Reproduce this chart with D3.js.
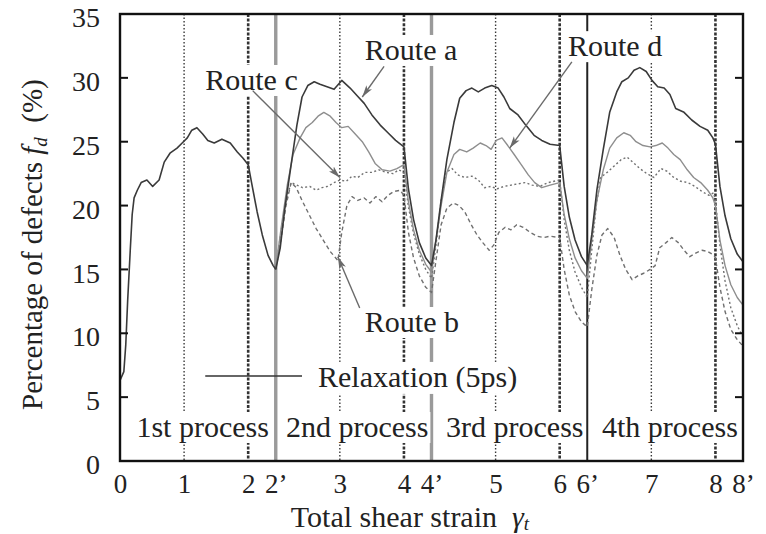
<!DOCTYPE html>
<html>
<head>
<meta charset="utf-8">
<script src="https://cdn.jsdelivr.net/npm/d3@7"></script>
<style>
    body { margin: 0; background: #fff; }
    svg text { font-family: "Liberation Serif", "Times New Roman", serif; fill: #222; }
</style>
</head>
<body>
<svg id="chart" width="766" height="534"></svg>
<script>
// ! DATA ! //
// x is the position along the strain axis: each process = 2 strain units of shear + a relaxation span
const xTickVals = [0, 1, 2, 2.43, 3.43, 4.43, 4.86, 5.86, 6.86, 7.29, 8.29, 9.29, 9.72];
const xTickLabels = ["0", "1", "2", "2’", "3", "4", "4’", "5", "6", "6’", "7", "8", "8’"];
const yTickVals = [5, 10, 15, 20, 25, 30];
const yLabelVals = [0, 5, 10, 15, 20, 25, 30, 35];
const shearMid = [1, 3.43, 5.86, 8.29];
const shearEnd = [2, 4.43, 6.86, 9.29];
const relaxEnd = [2.43, 4.86, 7.29];
const processLabels = ["1st process", "2nd process", "3rd process", "4th process"];

const process1 = [
    [0, 6.3], [0.06, 7.0], [0.09, 9.1], [0.12, 12.6], [0.16, 16.5], [0.19, 19.3], [0.22, 20.6], [0.27, 21.2],
    [0.33, 21.8], [0.42, 22.0], [0.51, 21.5], [0.61, 22.0], [0.69, 23.4], [0.78, 24.1], [0.89, 24.5], [0.97, 24.9],
    [1.05, 25.3], [1.12, 25.9], [1.20, 26.1], [1.29, 25.6], [1.37, 25.1], [1.47, 24.9], [1.59, 25.2], [1.72, 24.9],
    [1.83, 24.2], [1.92, 23.7], [2.00, 23.2],
    [2.06, 21.6], [2.14, 19.5], [2.22, 17.7], [2.31, 16.1], [2.39, 15.3], [2.43, 15.0]
];
const routeA = [
    [2.43, 15.0], [2.50, 16.7], [2.57, 19.7], [2.67, 23.2], [2.76, 26.3], [2.84, 28.5], [2.93, 29.4], [3.03, 29.7],
    [3.12, 29.5], [3.23, 29.3], [3.34, 29.1], [3.46, 29.8], [3.59, 29.2], [3.70, 28.6], [3.81, 28.0], [3.93, 27.1],
    [4.06, 26.3], [4.18, 25.7], [4.30, 25.1], [4.43, 24.6],
    [4.50, 21.3], [4.58, 18.9], [4.67, 17.1], [4.77, 15.9], [4.86, 15.3],
    [4.93, 17.3], [5.01, 20.4], [5.10, 23.6], [5.21, 26.5], [5.30, 28.4], [5.40, 29.0], [5.49, 29.2], [5.59, 28.9],
    [5.69, 29.2], [5.80, 29.4], [5.90, 29.2], [5.99, 28.5], [6.08, 27.6], [6.21, 27.1], [6.33, 26.3], [6.46, 25.5],
    [6.58, 25.1], [6.71, 24.8], [6.86, 24.7],
    [6.93, 21.5], [7.01, 19.1], [7.10, 17.3], [7.20, 16.0], [7.29, 15.3],
    [7.36, 17.7], [7.44, 21.2], [7.54, 24.4], [7.64, 27.3], [7.75, 28.9], [7.83, 29.7], [7.93, 30.0], [8.02, 30.6],
    [8.11, 30.8], [8.21, 30.5], [8.30, 29.8], [8.39, 29.3], [8.49, 29.2], [8.58, 28.7], [8.67, 27.6], [8.80, 27.3],
    [8.92, 26.7], [9.05, 26.2], [9.17, 25.9], [9.25, 25.3], [9.29, 24.8],
    [9.36, 21.5], [9.44, 19.2], [9.53, 17.4], [9.63, 16.2], [9.72, 15.6]
];
const routeB = [
    [2.43, 15.0], [2.51, 17.3], [2.59, 20.0], [2.67, 21.8], [2.75, 21.4], [2.84, 20.4], [2.95, 19.3], [3.06, 18.2],
    [3.17, 17.3], [3.28, 16.4], [3.40, 15.7], [3.46, 17.9], [3.54, 20.0], [3.62, 20.7], [3.71, 20.4], [3.81, 20.6],
    [3.90, 20.2], [3.99, 20.7], [4.09, 20.3], [4.18, 20.8], [4.27, 21.1], [4.37, 21.2], [4.43, 20.8],
    [4.50, 17.9], [4.58, 15.9], [4.67, 14.5], [4.77, 13.6], [4.86, 13.2],
    [4.93, 15.7], [5.01, 18.5], [5.10, 19.8], [5.20, 20.2], [5.29, 20.0], [5.38, 19.5], [5.48, 18.5], [5.57, 17.7],
    [5.66, 17.1], [5.76, 16.5], [5.83, 16.9], [5.91, 17.9], [6.01, 18.3], [6.10, 18.1], [6.19, 18.5], [6.29, 18.3],
    [6.40, 17.9], [6.51, 17.6], [6.61, 17.5], [6.71, 17.6], [6.86, 17.5],
    [6.93, 15.0], [7.01, 13.0], [7.10, 11.7], [7.20, 10.9], [7.29, 10.5],
    [7.36, 13.4], [7.44, 16.1], [7.52, 17.7], [7.61, 18.2], [7.71, 17.5], [7.80, 16.1], [7.89, 15.0], [7.99, 14.2],
    [8.08, 14.5], [8.17, 14.7], [8.27, 15.0], [8.35, 15.3], [8.42, 16.7], [8.52, 17.1], [8.61, 17.5], [8.71, 17.1],
    [8.80, 16.5], [8.89, 16.0], [8.99, 16.3], [9.08, 16.5], [9.17, 16.4], [9.27, 16.1], [9.29, 15.9],
    [9.36, 13.6], [9.44, 11.7], [9.53, 10.3], [9.63, 9.5], [9.72, 9.0]
];
const routeC = [
    [2.43, 15.0], [2.51, 17.9], [2.59, 20.4], [2.67, 21.8], [2.76, 21.6], [2.85, 21.4], [2.96, 21.5], [3.06, 21.2],
    [3.15, 21.4], [3.24, 21.5], [3.34, 21.8], [3.43, 22.0], [3.53, 21.9], [3.62, 22.3], [3.71, 22.2], [3.82, 22.6],
    [3.93, 22.6], [4.04, 22.8], [4.15, 22.6], [4.26, 22.5], [4.35, 22.8], [4.43, 22.6],
    [4.50, 19.9], [4.58, 17.8], [4.67, 16.2], [4.77, 15.0], [4.86, 14.3],
    [4.93, 16.9], [5.01, 20.4], [5.09, 22.6], [5.18, 22.9], [5.27, 22.4], [5.38, 22.2], [5.49, 22.3], [5.59, 22.0],
    [5.69, 21.4], [5.79, 21.5], [5.88, 21.3], [5.99, 21.5], [6.10, 21.6], [6.21, 21.7], [6.32, 21.8], [6.43, 21.6],
    [6.55, 21.5], [6.68, 21.8], [6.86, 22.0],
    [6.93, 18.9], [7.01, 16.5], [7.10, 14.8], [7.20, 13.6], [7.29, 12.8],
    [7.36, 16.5], [7.43, 20.0], [7.50, 22.2], [7.60, 22.6], [7.71, 23.1], [7.82, 23.6], [7.91, 23.8], [8.00, 23.4],
    [8.11, 22.9], [8.22, 22.5], [8.33, 22.2], [8.44, 22.9], [8.53, 22.7], [8.64, 22.2], [8.75, 21.9], [8.86, 21.8],
    [8.97, 21.5], [9.08, 21.1], [9.19, 20.8], [9.26, 21.0], [9.29, 20.4],
    [9.36, 16.9], [9.44, 14.1], [9.53, 12.0], [9.63, 10.6], [9.72, 9.7]
];
const routeD = [
    [2.43, 15.0], [2.51, 18.1], [2.61, 21.6], [2.70, 24.0], [2.81, 25.3], [2.90, 26.1], [3.00, 26.5], [3.09, 27.0],
    [3.18, 27.3], [3.28, 27.0], [3.37, 26.5], [3.46, 26.1], [3.56, 26.2], [3.67, 25.6], [3.78, 25.0], [3.88, 24.2],
    [3.98, 23.3], [4.09, 22.8], [4.21, 22.7], [4.32, 22.9], [4.43, 23.2],
    [4.50, 20.3], [4.58, 18.1], [4.67, 16.5], [4.77, 15.4], [4.86, 14.8],
    [4.93, 17.3], [5.01, 20.0], [5.10, 22.6], [5.21, 24.0], [5.30, 24.4], [5.41, 24.2], [5.51, 24.5], [5.62, 24.9],
    [5.71, 24.7], [5.79, 24.4], [5.87, 25.1], [5.96, 25.3], [6.05, 24.7], [6.15, 24.0], [6.26, 23.2], [6.37, 22.4],
    [6.47, 21.8], [6.58, 21.4], [6.71, 21.6], [6.86, 21.8],
    [6.93, 19.3], [7.01, 17.4], [7.10, 15.9], [7.20, 14.9], [7.29, 14.3],
    [7.36, 17.3], [7.44, 20.4], [7.54, 22.8], [7.64, 24.5], [7.75, 25.3], [7.86, 25.7], [7.96, 25.5], [8.05, 25.0],
    [8.16, 24.7], [8.27, 24.6], [8.36, 24.7], [8.46, 24.9], [8.55, 24.5], [8.64, 24.0], [8.74, 23.6], [8.85, 22.8],
    [8.95, 22.2], [9.06, 21.8], [9.17, 21.2], [9.25, 20.6], [9.29, 20.0],
    [9.36, 17.3], [9.44, 15.3], [9.53, 13.8], [9.63, 12.8], [9.72, 12.2]
];

// ! SIZES ! //
const W = 766, H = 534;
const margin = { left: 120, top: 14, right: 23, bottom: 73 };
const svg = d3.select("#chart");

const x = d3.scaleLinear().domain([0, 9.72]).range([margin.left, W - margin.right]);
const y = d3.scaleLinear().domain([0, 35]).range([H - margin.bottom, margin.top]);

// ! VERTICAL PROCESS LINES ! //
const vlines = svg.append("g");
const vline = (vals, stroke, width, dash) => {
    vlines.selectAll(null).data(vals).enter().append("line")
        .attr("x1", (d) => x(d)).attr("x2", (d) => x(d))
        .attr("y1", y(35)).attr("y2", y(0))
        .attr("stroke", stroke).attr("stroke-width", width)
        .attr("stroke-dasharray", dash);
};
vline(shearMid, "#3a3a3a", 1.4, "1.5,2");
vline(shearEnd, "#333", 2.6, "3,1.6");
vline(relaxEnd.slice(0, 2), "#9a9a9a", 3.4, null);
vline(relaxEnd.slice(2), "#222", 2, null);

// ! CURVES ! //
const line = d3.line().x((d) => x(d[0])).y((d) => y(d[1]));
const curves = [
    { data: routeB, stroke: "#707070", width: 1.4, dash: "4,3" },
    { data: routeC, stroke: "#707070", width: 1.4, dash: "2,2.5" },
    { data: routeD, stroke: "#8e8e8e", width: 1.4, dash: null },
    { data: routeA, stroke: "#3a3a3a", width: 1.6, dash: null },
    { data: process1, stroke: "#3a3a3a", width: 1.6, dash: null }
];
svg.append("g").selectAll("path").data(curves).enter().append("path")
    .attr("d", (d) => line(d.data))
    .attr("fill", "none")
    .attr("stroke", (d) => d.stroke)
    .attr("stroke-width", (d) => d.width)
    .attr("stroke-dasharray", (d) => d.dash)
    .attr("stroke-linejoin", "round");

// ! LABELS WITH WHITE BACKGROUND ! //
const labelG = svg.append("g");
const boxedText = (tx, ty, str, anchor, size) => {
    const g = labelG.append("g");
    const rect = g.append("rect").attr("fill", "#fff");
    const t = g.append("text").attr("x", tx).attr("y", ty)
        .attr("text-anchor", anchor).style("font-size", size + "px").text(str);
    const b = t.node().getBBox();
    rect.attr("x", b.x - 2).attr("y", b.y + 2).attr("width", b.width + 4).attr("height", b.height - 2);
    return t;
};

const processCenters = [1.29, 3.70, 6.16, 8.58];
processLabels.forEach((s, i) => boxedText(x(processCenters[i]), y(1.88), s, "middle", 30));

boxedText(x(3.09), y(5.8), "Relaxation (5ps)", "start", 30);
svg.append("line")
    .attr("x1", x(1.33)).attr("x2", x(2.84))
    .attr("y1", y(6.66)).attr("y2", y(6.66))
    .attr("stroke", "#333").attr("stroke-width", 1.6);

// ! ROUTE ANNOTATIONS ! //
svg.append("defs").append("marker")
    .attr("id", "head").attr("viewBox", "0 -4 12 8")
    .attr("refX", 12).attr("refY", 0)
    .attr("markerWidth", 12).attr("markerHeight", 8)
    .attr("markerUnits", "userSpaceOnUse").attr("orient", "auto")
    .append("path").attr("d", "M0,-3.5L12,0L0,3.5L3,0Z").attr("fill", "#6a6a6a");

const routes = [
    { name: "Route a", tx: 3.82, ty: 31.4, from: [4.12, 30.9], to: [3.78, 28.5] },
    { name: "Route c", tx: 1.33, ty: 29.05, from: [2.07, 29.0], to: [3.43, 22.2] },
    { name: "Route d", tx: 6.99, ty: 31.7, from: [7.05, 31.25], to: [6.08, 24.5] },
    { name: "Route b", tx: 3.82, ty: 10.1, from: [3.74, 11.98], to: [3.40, 15.97] }
];
routes.forEach((r) => {
    svg.append("line")
        .attr("x1", x(r.from[0])).attr("y1", y(r.from[1]))
        .attr("x2", x(r.to[0])).attr("y2", y(r.to[1]))
        .attr("stroke", "#6a6a6a").attr("stroke-width", 1.4)
        .attr("marker-end", "url(#head)");
    boxedText(x(r.tx), y(r.ty), r.name, "start", 30);
});

// ! AXES ! //
const yAxisL = d3.axisLeft(y).tickValues(yLabelVals).tickSize(0).tickPadding(20);
const gy = svg.append("g").attr("transform", `translate(${margin.left},0)`).call(yAxisL);
gy.select(".domain").remove();
gy.selectAll("text").style("font-size", "28px").attr("dy", "0.45em");

const tickG = svg.append("g");
tickG.selectAll(null).data(yTickVals).enter().append("line")
    .attr("x1", margin.left).attr("x2", margin.left + 8)
    .attr("y1", (d) => y(d)).attr("y2", (d) => y(d))
    .attr("stroke", "#111").attr("stroke-width", 2);
tickG.selectAll(null).data(yTickVals).enter().append("line")
    .attr("x1", W - margin.right).attr("x2", W - margin.right - 8)
    .attr("y1", (d) => y(d)).attr("y2", (d) => y(d))
    .attr("stroke", "#111").attr("stroke-width", 2);

const xAxis = d3.axisBottom(x).tickValues(xTickVals).tickFormat((d, i) => xTickLabels[i]).tickSize(0).tickPadding(13);
const gx = svg.append("g").attr("transform", `translate(0,${y(0)})`).call(xAxis);
gx.select(".domain").remove();
gx.selectAll("text").style("font-size", "27px");

// ! FRAME ! //
svg.append("rect")
    .attr("x", margin.left).attr("y", margin.top)
    .attr("width", W - margin.left - margin.right)
    .attr("height", H - margin.top - margin.bottom)
    .attr("fill", "none").attr("stroke", "#111").attr("stroke-width", 2.4);

// ! AXIS TITLES ! //
const yt = svg.append("text")
    .attr("transform", "translate(42,410) rotate(-90)")
    .attr("text-anchor", "start").style("font-size", "29px");
yt.append("tspan").text("Percentage of defects ");
yt.append("tspan").style("font-style", "italic").text("f");
yt.append("tspan").style("font-style", "italic").style("font-size", "19px").attr("dy", 5).text("d");
yt.append("tspan").attr("dy", -5).text("\u00a0\u00a0(%)");

const xt = svg.append("text")
    .attr("x", 410).attr("y", 527)
    .attr("text-anchor", "middle").style("font-size", "30px");
xt.append("tspan").text("Total shear strain\u00a0\u00a0");
xt.append("tspan").style("font-style", "italic").text("γ");
xt.append("tspan").style("font-style", "italic").style("font-size", "19px").attr("dy", 3).text("t");
</script>
</body>
</html>
